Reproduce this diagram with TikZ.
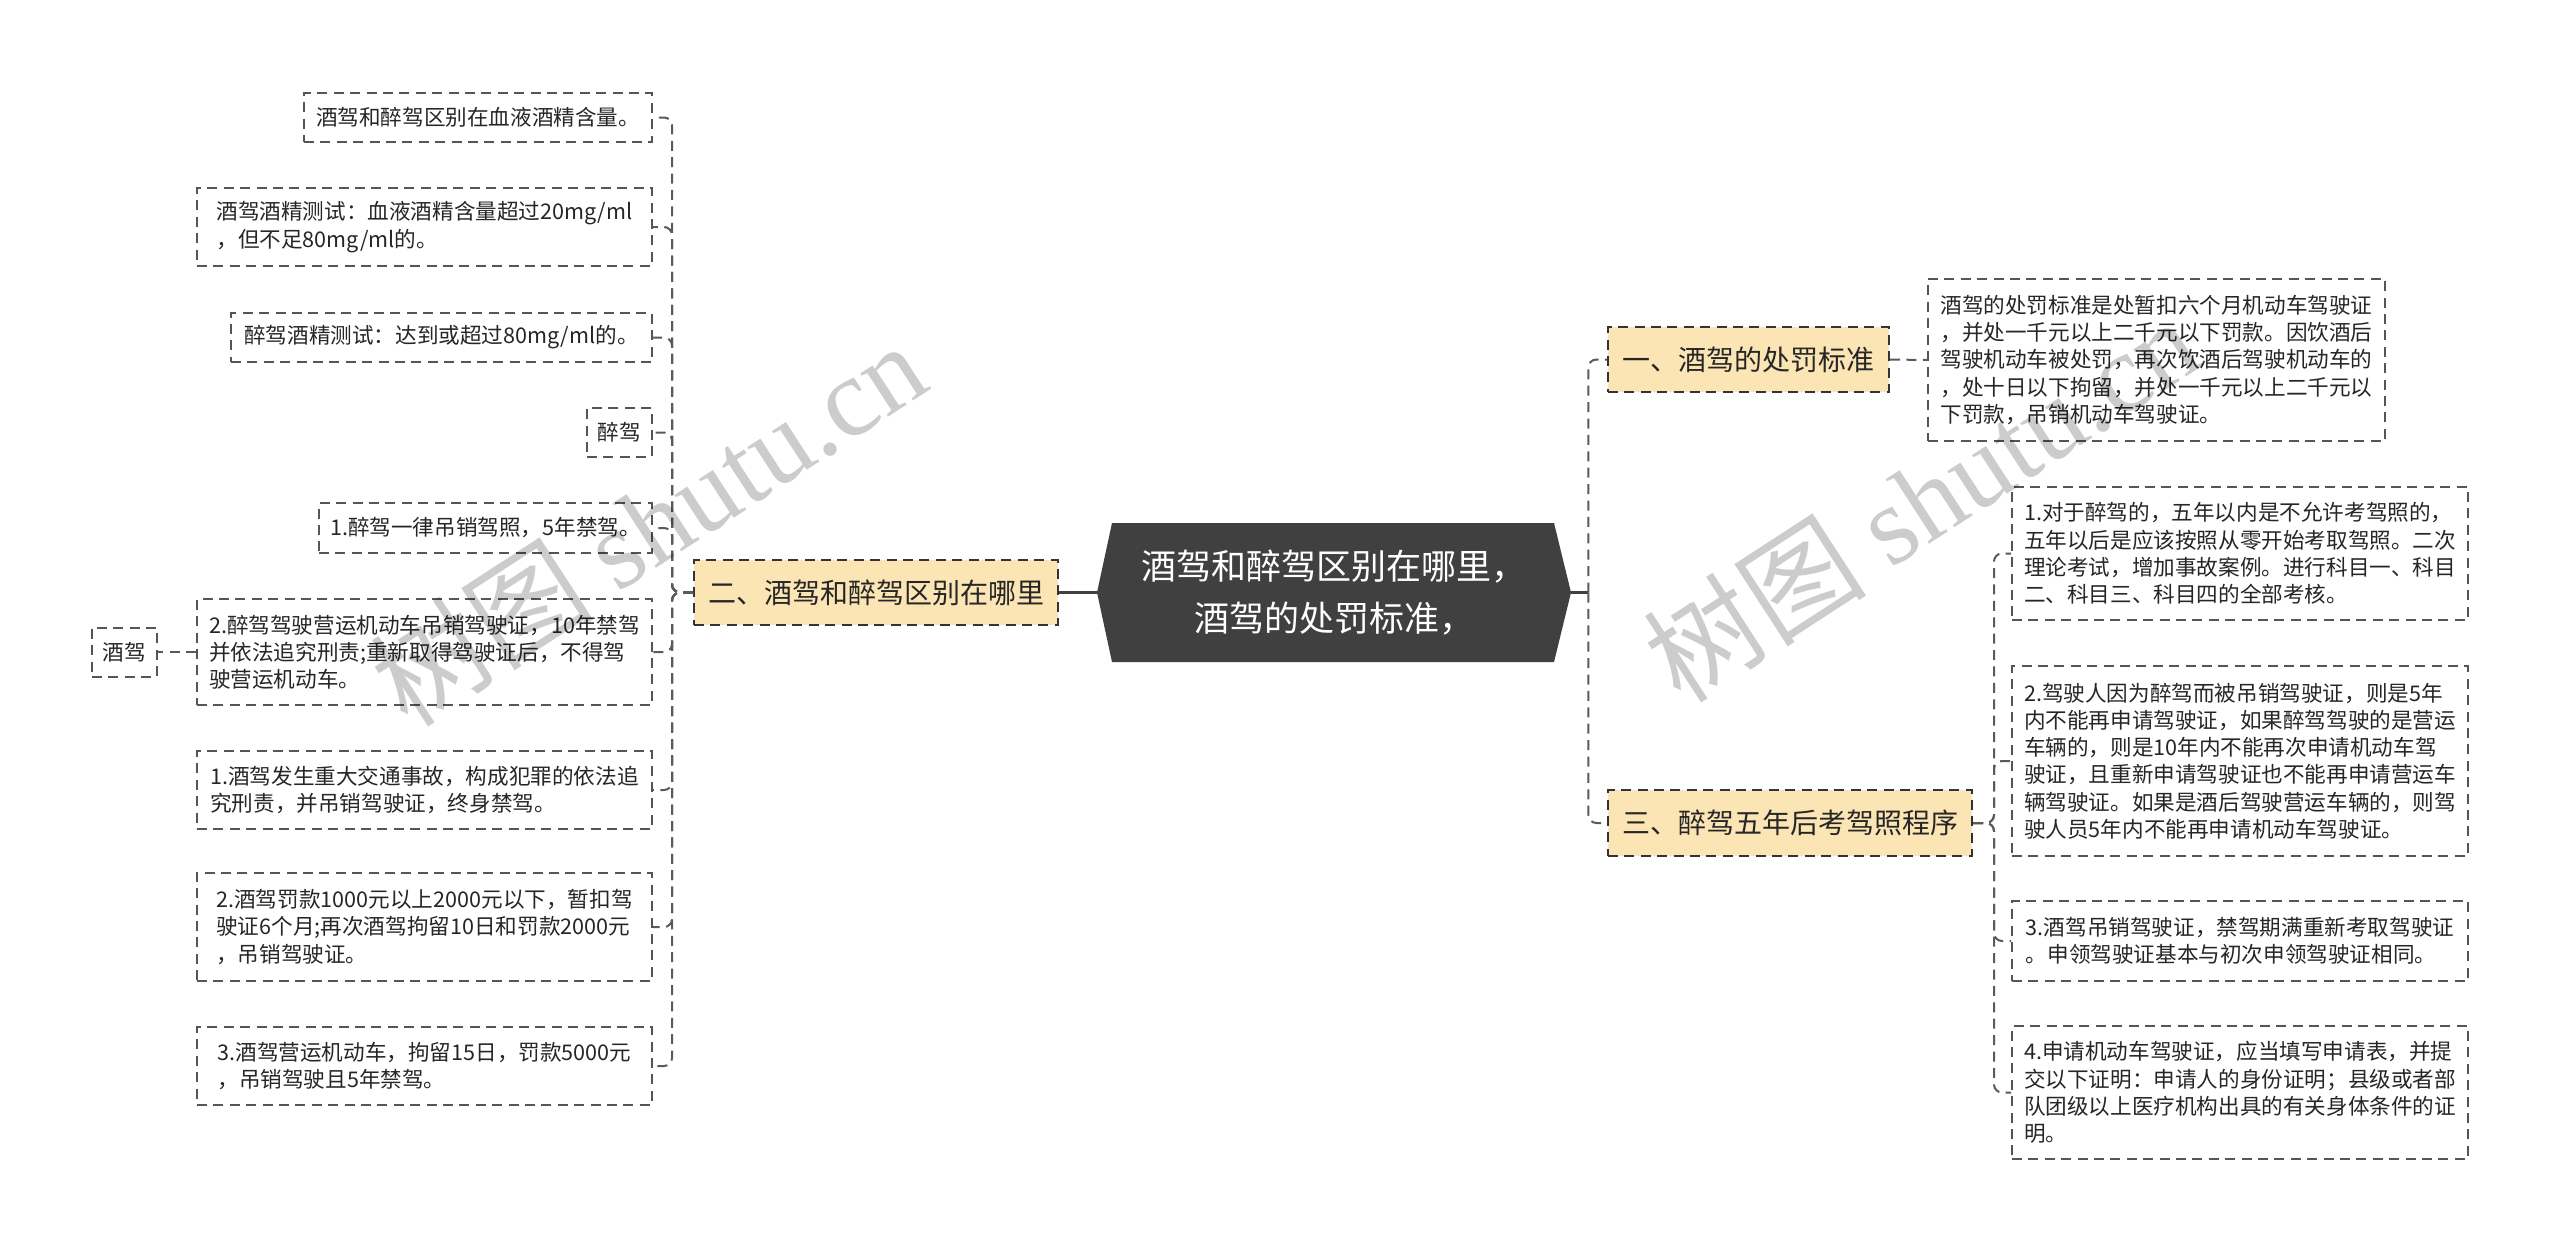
\documentclass[tikz,border=0pt]{standalone}
\usepackage{fontspec}
\newfontfamily\cjk{Noto Sans CJK SC}
\newfontfamily\wmserif{Liberation Serif}
\definecolor{boxline}{HTML}{555555}
\definecolor{connline}{HTML}{5A5A5A}
\definecolor{branchfill}{HTML}{FCE5B4}
\definecolor{rootfill}{HTML}{404040}
\begin{document}
\begin{tikzpicture}[x=0.5pt,y=-0.5pt,
  dsh/.style={dash pattern=on 5pt off 3.2pt},
  leaf/.style={draw=boxline, dsh, line width=1pt, fill=white, align=left,
    font=\cjk\fontsize{10.8}{13.6}\selectfont, inner xsep=2pt, inner ysep=2pt, text=black!85},
  branch/.style={draw=black!80, dsh, line width=1pt, fill=branchfill, align=center,
    font=\cjk\fontsize{14}{17}\selectfont, inner xsep=2pt, inner ysep=2pt, text=black!85},
  conn/.style={draw=connline, dsh, line width=1pt, rounded corners=4pt},
  rootline/.style={draw=rootfill, line width=1.6pt},
  wm/.style={text=black, text opacity=0.2, rotate=33, inner sep=0pt}
]
\useasboundingbox (0,0) rectangle (2560,1253);
\fill[white] (0,0) rectangle (2560,1253);

% root chevron
\fill[rootfill] (1097,592.5) -- (1112,523) -- (1554,523) -- (1571,592.5) -- (1554,662) -- (1112,662) -- cycle;
\node[minimum width=237pt, minimum height=69.5pt, inner sep=0pt, align=center, text=white,
  font=\cjk\fontsize{17.5}{26}\selectfont] (root) at (1334,592.5) {酒驾和醉驾区别在哪里，\\酒驾的处罚标准，};

% branches
\node[branch, minimum width=182pt, minimum height=32.5pt] (n2) at (876,592.5) {二、酒驾和醉驾区别在哪里};
\node[branch, minimum width=140.5pt, minimum height=32.5pt] (n1) at (1748.5,359.5) {一、酒驾的处罚标准};
\node[branch, minimum width=182pt, minimum height=33pt] (n3) at (1790,823) {三、醉驾五年后考驾照程序};

% left leaves
\node[leaf, anchor=east, minimum width=174pt, minimum height=24.5pt] (b1) at (653,117.5) {酒驾和醉驾区别在血液酒精含量。};
\node[leaf, anchor=east, minimum width=227.5pt, minimum height=39pt] (b2) at (653,227) {酒驾酒精测试：血液酒精含量超过20mg/ml\\，但不足80mg/ml的。};
\node[leaf, anchor=east, minimum width=210.5pt, minimum height=24.5pt] (b3) at (653,337.5) {醉驾酒精测试：达到或超过80mg/ml的。};
\node[leaf, anchor=east, minimum width=32.5pt, minimum height=24.5pt] (b4) at (653,432.5) {醉驾};
\node[leaf, anchor=east, minimum width=166.5pt, minimum height=25pt] (b5) at (653,528) {1.醉驾一律吊销驾照，5年禁驾。};
\node[leaf, anchor=east, minimum width=227.5pt, minimum height=53pt] (b6) at (653,652) {2.醉驾驾驶营运机动车吊销驾驶证，10年禁驾\\并依法追究刑责;重新取得驾驶证后，不得驾\\驶营运机动车。};
\node[leaf, anchor=east, minimum width=32.5pt, minimum height=24.5pt] (jj) at (158,652) {酒驾};
\node[leaf, anchor=east, minimum width=227.5pt, minimum height=39pt] (b8) at (653,790) {1.酒驾发生重大交通事故，构成犯罪的依法追\\究刑责，并吊销驾驶证，终身禁驾。};
\node[leaf, anchor=east, minimum width=227.5pt, minimum height=54pt] (b9) at (653,927) {2.酒驾罚款1000元以上2000元以下，暂扣驾\\驶证6个月;再次酒驾拘留10日和罚款2000元\\，吊销驾驶证。};
\node[leaf, anchor=east, minimum width=227.5pt, minimum height=39pt] (b10) at (653,1066) {3.酒驾营运机动车，拘留15日，罚款5000元\\，吊销驾驶且5年禁驾。};

% right leaves
\node[leaf, anchor=west, minimum width=228.5pt, minimum height=81pt] (t1) at (1927,360) {酒驾的处罚标准是处暂扣六个月机动车驾驶证\\，并处一千元以上二千元以下罚款。因饮酒后\\驾驶机动车被处罚，再次饮酒后驾驶机动车的\\，处十日以下拘留，并处一千元以上二千元以\\下罚款，吊销机动车驾驶证。};
\node[leaf, anchor=west, minimum width=228pt, minimum height=66.5pt] (r1) at (2011,553.5) {1.对于醉驾的，五年以内是不允许考驾照的，\\五年以后是应该按照从零开始考取驾照。二次\\理论考试，增加事故案例。进行科目一、科目\\二、科目三、科目四的全部考核。};
\node[leaf, anchor=west, minimum width=228pt, minimum height=95pt] (r2) at (2011,761) {2.驾驶人因为醉驾而被吊销驾驶证，则是5年\\内不能再申请驾驶证，如果醉驾驾驶的是营运\\车辆的，则是10年内不能再次申请机动车驾\\驶证，且重新申请驾驶证也不能再申请营运车\\辆驾驶证。如果是酒后驾驶营运车辆的，则驾\\驶人员5年内不能再申请机动车驾驶证。};
\node[leaf, anchor=west, minimum width=228pt, minimum height=40pt] (r3) at (2011,941) {3.酒驾吊销驾驶证，禁驾期满重新考取驾驶证\\。申领驾驶证基本与初次申领驾驶证相同。};
\node[leaf, anchor=west, minimum width=228pt, minimum height=66.5pt] (r4) at (2011,1092.5) {4.申请机动车驾驶证，应当填写申请表，并提\\交以下证明：申请人的身份证明；县级或者部\\队团级以上医疗机构出具的有关身体条件的证\\明。};

% root connectors
\draw[rootline] (root.west) -- (n2.east);
\draw[rootline] (root.east) -- ++(17,0) coordinate (rj);
\draw[conn] (rj) |- (n1.west);
\draw[conn] (rj) |- (n3.west);

% left connectors
\foreach \b in {b1,b2,b3,b4,b5,b6,b8,b9,b10}{
  \draw[conn] (n2.west) -- ++(-21,0) |- (\b.east);
}
\draw[conn] (b6.west) -- (jj.east);

% right connectors
\draw[conn] (n1.east) -- (t1.west);
\foreach \r in {r1,r2,r3,r4}{
  \draw[conn] (n3.east) -- ++(21,0) |- (\r.west);
}

% watermarks
\node[wm] (wm1) at (648,523) {\cjk\fontsize{56}{56}\selectfont 树图 \wmserif shutu.cn};
\node[wm] (wm2) at (1921,499) {\cjk\fontsize{56}{56}\selectfont 树图 \wmserif shutu.cn};
\end{tikzpicture}
\end{document}
